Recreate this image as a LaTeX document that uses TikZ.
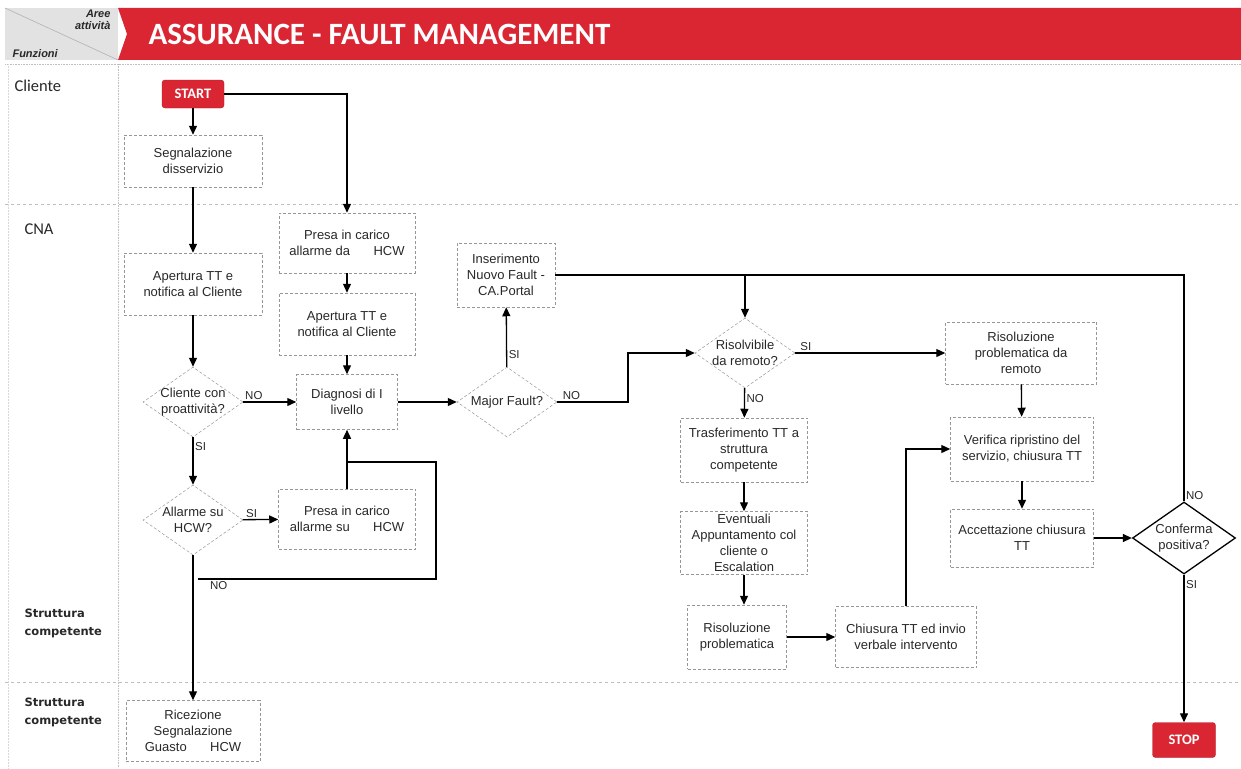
\documentclass[tikz,border=0pt]{standalone}
\usepackage{fontspec}
\setmainfont{Liberation Sans}
\newfontfamily\carlito{Carlito}
\newfontfamily\dejavu{DejaVu Sans}
\usepackage{xcolor}
\usepackage{tikz}
\usetikzlibrary{arrows.meta,shapes.geometric,calc}
\definecolor{FaultRed}{RGB}{218,38,50}
\definecolor{LaneGray}{RGB}{190,190,190}
\definecolor{HeadGray}{RGB}{226,226,226}
\definecolor{BoxGray}{RGB}{150,150,150}
\definecolor{TextGray}{RGB}{40,40,40}

\begin{document}
\begin{tikzpicture}[x=1pt,y=-1pt,
    stepbox/.style={draw=BoxGray, densely dashed, line width=0.5pt, align=center, inner sep=2pt,
      font=\fontsize{13}{16}\selectfont, text=TextGray},
    decision/.style={diamond, draw=BoxGray, densely dashed, line width=0.5pt,
      minimum width=100pt, minimum height=70pt, inner sep=0pt},
    dtext/.style={align=center, inner sep=0pt, font=\fontsize{13}{16}\selectfont, text=TextGray},
    term/.style={fill=FaultRed, draw=FaultRed!80!black, rounded corners=3pt, text=white,
      font=\carlito\bfseries\fontsize{14.5}{15}\selectfont},
    flow/.style={line width=1.3pt, -{Triangle[length=9pt,width=8pt]}},
    wire/.style={line width=1.3pt},
    lab/.style={font=\fontsize{11.5}{12}\selectfont, text=TextGray, inner sep=1.5pt},
    lane/.style={font=\carlito\fontsize{16.5}{18}\selectfont, anchor=west, text=TextGray},
    lanebold/.style={font=\dejavu\bfseries\fontsize{11.5}{18}\selectfont, align=left, anchor=west, text=TextGray}]
    \useasboundingbox (0,0) rectangle (1241,768);

    % header
    \fill[HeadGray] (5,8) rectangle (118,60);
    \draw[gray!60, line width=0.6pt] (5,8) -- (118,60);
    \node[font=\bfseries\itshape\fontsize{11}{12}\selectfont, align=right, anchor=north east, text=TextGray] (aree) at (114,6) {Aree\\attività};
    \node[font=\bfseries\itshape\fontsize{11}{12}\selectfont, anchor=south west, text=TextGray] (funz) at (9,61) {Funzioni};
    \fill[FaultRed] (118,8) -- (1241,8) -- (1241,60) -- (118,60) -- (127,34) -- cycle;
    \node[font=\carlito\bfseries\fontsize{31}{32}\selectfont, text=white, anchor=west] (title) at (145,34) {ASSURANCE - FAULT MANAGEMENT};

    % lanes
    \draw[LaneGray, densely dotted, line width=0.6pt] (5,64) -- (1241,64);
    \draw[LaneGray, densely dotted, line width=0.6pt] (118,64) -- (118,768);
    \draw[LaneGray!60, densely dotted, line width=0.5pt] (8,64) -- (8,768);
    \draw[LaneGray, dashed, line width=0.6pt] (5,204) -- (1241,204);
    \draw[LaneGray, dashed, line width=0.6pt] (5,682) -- (1241,682);
    \node[lane] (lcli) at (11,86) {Cliente};
    \node[lane] (lcna) at (21,229) {CNA};
    \node[lanebold] (lstr1) at (21,623) {Struttura\\competente};
    \node[lanebold] (lstr2) at (21,712) {Struttura\\competente};

    % start / stop
    \node[term, minimum width=62pt, minimum height=28pt] (start) at (193,94) {START};
    \node[term, minimum width=63pt, minimum height=35pt] (stop) at (1184,740) {STOP};

    % activities
    \foreach \name/\cx/\cy/\w/\h/\txt in {
        segn/193/161/138/52/{Segnalazione\\disservizio},
        apert1/193/284/138/62/{Apertura TT e\\notifica al Cliente},
        presada/347/243/136/60/{Presa in carico\\allarme da\hspace{1.8em}HCW},
        apert2/347/324/136/62/{Apertura TT e\\notifica al Cliente},
        diag/347/402/101/55/{Diagnosi di I\\livello},
        presasu/347/519/137/60/{Presa in carico\\allarme su\hspace{1.8em}HCW},
        ricez/193/731/134/61/{Ricezione\\Segnalazione\\Guasto\hspace{1.8em}HCW},
        insert/506/275/98/64/{Inserimento\\Nuovo Fault -\\CA.Portal},
        trasf/744/450/127/64/{Trasferimento TT a\\struttura\\competente},
        event/744/543/127/63/{Eventuali\\Appuntamento col\\cliente o\\Escalation},
        risprob/737/637/99/64/{Risoluzione\\problematica},
        chius/906/637/141/61/{Chiusura TT ed invio\\verbale intervento},
        risrem/1021/353/151/62/{Risoluzione\\problematica da\\remoto},
        verif/1022/449/143/64/{Verifica ripristino del\\servizio, chiusura TT},
        accett/1022/538/143/58/{Accettazione chiusura\\TT}} {
      \node[stepbox, minimum width=\w pt, minimum height=\h pt] (\name) at (\cx,\cy) {\txt};
    }

    % decisions
    \foreach \name/\cx/\cy/\txt in {
        cli/193/402/{Cliente con\\proattività?},
        allarme/193/520/{Allarme su\\HCW?},
        major/507/402/{Major Fault?},
        risolv/745/353/{Risolvibile\\da remoto?}} {
      \node[decision] (\name) at (\cx,\cy) {};
      \node[dtext] at (\name) {\txt};
    }
    \node[decision, draw=black, solid, line width=1.3pt, minimum width=103pt, minimum height=72pt] (conf) at (1184,538) {};
    \node[dtext] at (conf) {Conferma\\positiva?};

    % connectors
    \coordinate (noexit) at (198,579);
    \coordinate (loopcorner) at (436,462);
    \coordinate (nobend) at (628,0);
    \draw[flow] (start.east) -| (presada.north);
    \draw[flow] (start) -- (segn);
    \draw[flow] (segn) -- (apert1);
    \draw[flow] (apert1) -- (cli);
    \draw[flow] (cli) -- node[lab, above, pos=0.2] {NO} (diag);
    \draw[flow] (cli) -- node[lab, right, pos=0.2] {SI} (allarme);
    \draw[flow] (allarme) -- node[lab, above, pos=0.25] {SI} (presasu);
    \draw[flow] (allarme) -- (ricez);
    \draw[wire] (noexit) node[lab, below right, xshift=10pt] {NO} -| (loopcorner) -- (diag.south |- loopcorner);
    \draw[flow] (presasu) -- (diag);
    \draw[flow] (presada) -- (apert2);
    \draw[flow] (apert2) -- (diag);
    \draw[flow] (diag) -- (major);
    \draw[flow] (major) -- node[lab, right, pos=0.2] {SI} (insert);
    \draw[flow] (major.east) -- node[lab, above, pos=0.2] {NO} (major.east -| nobend) |- (risolv.west);
    \draw[wire] (conf.north) node[lab, above right] {NO} |- (insert.east);
    \draw[flow] (insert.east) -| (risolv.north);
    \draw[flow] (risolv.east) -- node[lab, above, pos=0.07] {SI} (risolv.east -| risrem.west);
    \draw[flow] (risolv) -- node[lab, right, pos=0.35] {NO} (trasf);
    \draw[flow] (trasf) -- (event);
    \draw[flow] (event.south) -- (event.south |- risprob.north);
    \draw[flow] (risprob) -- (chius);
    \draw[flow] (chius.north) |- (verif.west);
    \draw[flow] (risrem) -- (verif);
    \draw[flow] (verif) -- (accett);
    \draw[flow] (accett) -- (conf);
    \draw[flow] (conf) -- node[lab, right, pos=0.07] {SI} (stop);
  \end{tikzpicture}
\end{document}
